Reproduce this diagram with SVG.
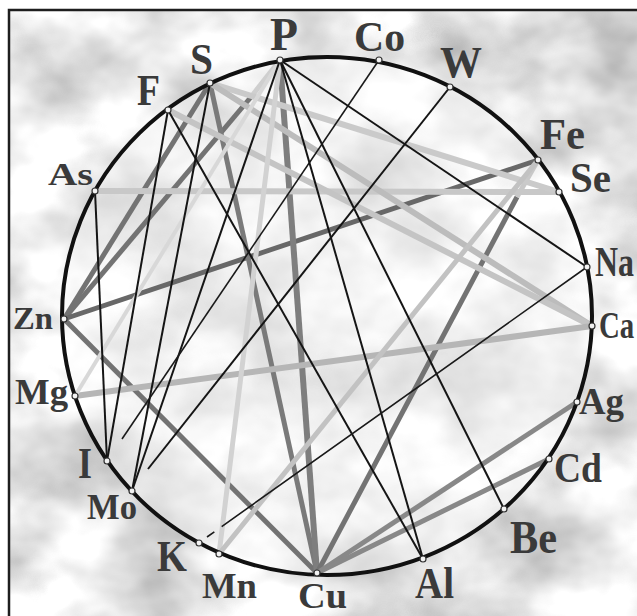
<svg xmlns="http://www.w3.org/2000/svg" width="637" height="616" viewBox="0 0 637 616">
<style>
.lbl{font-family:"Liberation Serif","Times New Roman",serif;font-weight:bold;fill:#3a3a3a}
.c line{fill:none;stroke-linecap:butt}
.blk{stroke:#151515;stroke-width:2}
.thin{stroke:#1a1a1a;stroke-width:1.6}
.dk{stroke:#737373;stroke-width:5}
.md{stroke:#888;stroke-width:5}
.lt{stroke:#c2c2c2;stroke-width:6}
.xl{stroke:#d2d2d2;stroke-width:5}
.dot{fill:#f2f2f2;stroke:#333;stroke-width:1.2}
</style>
<defs>
<filter id="clouds" x="0" y="0" width="1" height="1" color-interpolation-filters="sRGB">
<feTurbulence type="fractalNoise" baseFrequency="0.009 0.012" numOctaves="4" seed="7"/>
<feColorMatrix type="matrix" values="0.6 0 0 0 0.6  0.6 0 0 0 0.6  0.6 0 0 0 0.6  0 0 0 0 1"/>
</filter>
</defs>
<rect width="637" height="616" fill="#ffffff"/>
<rect x="9" y="10" width="640" height="620" fill="#e6e6e6" filter="url(#clouds)"/>
<ellipse cx="327" cy="316" rx="265" ry="259" fill="#ffffff" opacity="0.45"/>
<rect x="9" y="10" width="640" height="620" fill="none" stroke="#1e1e1e" stroke-width="2.5"/>

<g id="connectors" class="c">
<line class="dk" x1="210" y1="83" x2="64" y2="319"/>
<line class="dk" x1="251" y1="97" x2="64" y2="319"/>
<line class="dk" x1="64" y1="319" x2="538" y2="160" style="stroke:#686868"/>
<line class="dk" x1="64" y1="319" x2="317" y2="573"/>
<line class="dk" x1="210" y1="83" x2="317" y2="573" style="stroke:#7a7a7a"/>
<line class="dk" x1="280" y1="60" x2="317" y2="573" style="stroke:#7e7e7e;stroke-width:6"/>
<line class="dk" x1="517" y1="197" x2="317" y2="573"/>
<line class="md" x1="577" y1="402" x2="317" y2="573"/>
<line class="md" x1="549" y1="459" x2="317" y2="573"/>
<line class="xl" x1="280" y1="60" x2="251" y2="97" style="stroke:#cfcfcf"/>
<line class="xl" x1="538" y1="160" x2="517" y2="197" style="stroke:#c8c8c8"/>
<line class="lt" x1="95" y1="191" x2="559" y2="192" style="stroke:#c8c8c8"/>
<line class="lt" x1="210" y1="83" x2="559" y2="192" style="stroke:#cacaca"/>
<line class="lt" x1="210" y1="83" x2="592" y2="326" style="stroke:#bcbcbc"/>
<line class="lt" x1="168" y1="110" x2="592" y2="326" style="stroke:#c4c4c4"/>
<line class="lt" x1="75" y1="396" x2="592" y2="326" style="stroke:#b6b6b6"/>
<line class="xl" x1="280" y1="60" x2="219" y2="554"/>
<line class="lt" x1="538" y1="160" x2="219" y2="554" style="stroke:#c2c2c2;stroke-width:5"/>
<line class="xl" x1="75" y1="396" x2="280" y2="60" style="stroke:#d8d8d8;stroke-width:4"/>
<line class="blk" x1="280" y1="60" x2="132" y2="491"/>
<line class="blk" x1="210" y1="83" x2="132" y2="491"/>
<line class="blk" x1="450" y1="87" x2="148" y2="469"/>
<line class="blk" x1="95" y1="191" x2="107" y2="461"/>
<line class="blk" x1="168" y1="110" x2="107" y2="461"/>
<line class="thin" x1="379" y1="60" x2="122" y2="439"/>
<line class="blk" x1="280" y1="60" x2="587" y2="267"/>
<line class="blk" x1="280" y1="60" x2="504" y2="509"/>
<line class="blk" x1="280" y1="60" x2="423" y2="559"/>
<line class="blk" x1="168" y1="110" x2="423" y2="559"/>
<line class="thin" x1="207" y1="537" x2="587" y2="267" stroke-dasharray="9 9 600"/>
</g>

<ellipse cx="327" cy="316" rx="265" ry="259" fill="none" stroke="#111" stroke-width="4"/>

<g id="node-P"><circle class="dot" cx="280" cy="60" r="3"/><text class="lbl" x="270" y="50" font-size="46" textLength="28" lengthAdjust="spacingAndGlyphs">P</text></g>
<g id="node-S"><circle class="dot" cx="210" cy="83" r="3"/><text class="lbl" x="190" y="74" font-size="44" textLength="23" lengthAdjust="spacingAndGlyphs">S</text></g>
<g id="node-F"><circle class="dot" cx="168" cy="110" r="3"/><text class="lbl" x="137" y="105" font-size="44" textLength="23" lengthAdjust="spacingAndGlyphs">F</text></g>
<g id="node-As"><circle class="dot" cx="95" cy="191" r="3"/><text class="lbl" x="48" y="185" font-size="31" textLength="45" lengthAdjust="spacingAndGlyphs">As</text></g>
<g id="node-Co"><circle class="dot" cx="379" cy="60" r="3"/><text class="lbl" x="354" y="51" font-size="42" textLength="51" lengthAdjust="spacingAndGlyphs">Co</text></g>
<g id="node-W"><circle class="dot" cx="450" cy="87" r="3"/><text class="lbl" x="440" y="77" font-size="44" textLength="42" lengthAdjust="spacingAndGlyphs">W</text></g>
<g id="node-Fe"><circle class="dot" cx="538" cy="160" r="3"/><text class="lbl" x="540" y="149" font-size="44" textLength="45" lengthAdjust="spacingAndGlyphs">Fe</text></g>
<g id="node-Se"><circle class="dot" cx="559" cy="192" r="3"/><text class="lbl" x="570" y="192" font-size="43" textLength="41" lengthAdjust="spacingAndGlyphs">Se</text></g>
<g id="node-Na"><circle class="dot" cx="587" cy="267" r="3"/><text class="lbl" transform="translate(595,276) scale(0.76,1)" font-size="42">Na</text></g>
<g id="node-Ca"><circle class="dot" cx="592" cy="326" r="3"/><text class="lbl" transform="translate(599,338) scale(0.76,1)" font-size="38">Ca</text></g>
<g id="node-Ag"><circle class="dot" cx="577" cy="402" r="3"/><text class="lbl" x="579" y="414" font-size="38" textLength="45" lengthAdjust="spacingAndGlyphs">Ag</text></g>
<g id="node-Cd"><circle class="dot" cx="549" cy="459" r="3"/><text class="lbl" x="554" y="482" font-size="43" textLength="48" lengthAdjust="spacingAndGlyphs">Cd</text></g>
<g id="node-Be"><circle class="dot" cx="504" cy="509" r="3"/><text class="lbl" x="510" y="553" font-size="46" textLength="47" lengthAdjust="spacingAndGlyphs">Be</text></g>
<g id="node-Al"><circle class="dot" cx="423" cy="559" r="3"/><text class="lbl" x="415" y="598" font-size="44" textLength="39" lengthAdjust="spacingAndGlyphs">Al</text></g>
<g id="node-Cu"><circle class="dot" cx="317" cy="573" r="3"/><text class="lbl" x="298" y="608" font-size="36" textLength="49" lengthAdjust="spacingAndGlyphs">Cu</text></g>
<g id="node-Mn"><circle class="dot" cx="219" cy="554" r="3"/><text class="lbl" x="202" y="598" font-size="36" textLength="55" lengthAdjust="spacingAndGlyphs">Mn</text></g>
<g id="node-K"><circle class="dot" cx="199" cy="543" r="3"/><text class="lbl" x="157" y="571" font-size="45" textLength="30" lengthAdjust="spacingAndGlyphs">K</text></g>
<g id="node-Mo"><circle class="dot" cx="132" cy="491" r="3"/><text class="lbl" x="87" y="519" font-size="35" textLength="50" lengthAdjust="spacingAndGlyphs">Mo</text></g>
<g id="node-I"><circle class="dot" cx="107" cy="461" r="3"/><text class="lbl" x="78" y="478" font-size="45" textLength="14" lengthAdjust="spacingAndGlyphs">I</text></g>
<g id="node-Mg"><circle class="dot" cx="75" cy="396" r="3"/><text class="lbl" x="15" y="404" font-size="35" textLength="53" lengthAdjust="spacingAndGlyphs">Mg</text></g>
<g id="node-Zn"><circle class="dot" cx="64" cy="319" r="3"/><text class="lbl" x="13" y="329" font-size="31" textLength="40" lengthAdjust="spacingAndGlyphs">Zn</text></g>
</svg>
